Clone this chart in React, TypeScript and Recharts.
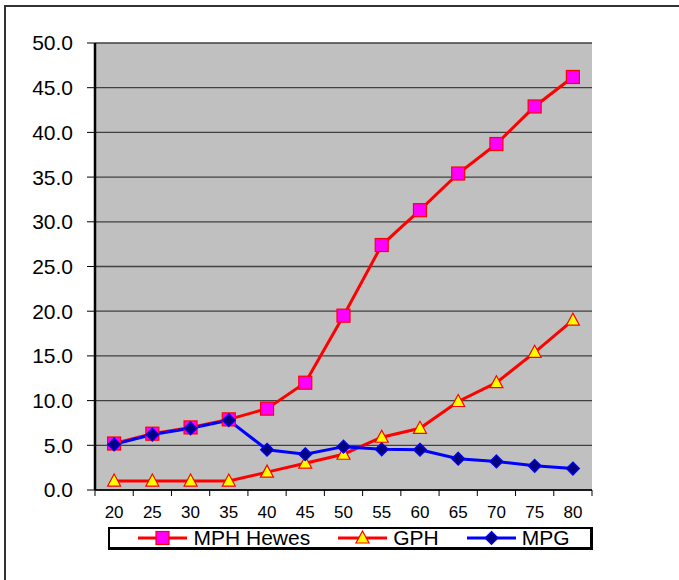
import {CartesianGrid, Legend, Line, LineChart, XAxis, YAxis} from 'recharts'

const speeds = ['20', '25', '30', '35', '40', '45', '50', '55', '60', '65', '70', '75', '80']
const mphHewes = [5.2, 6.3, 7.0, 7.9, 9.1, 12.0, 19.5, 27.4, 31.3, 35.4, 38.7, 42.9, 46.2]
const gph = [1, 1, 1, 1, 2, 3, 4, 5.9, 6.9, 9.9, 12.0, 15.4, 19.0]
const mpg = [5.1, 6.2, 6.9, 7.8, 4.5, 4.0, 4.85, 4.55, 4.5, 3.5, 3.2, 2.7, 2.4]
const yTicks = [0, 5, 10, 15, 20, 25, 30, 35, 40, 45, 50]
const legendOrder = ['mph', 'gph', 'mpg']

const data = speeds.map((speed, i) => ({speed, mph: mphHewes[i], gph: gph[i], mpg: mpg[i]}))

const W = 679
const H = 580
const LEFT = 95
const RIGHT = 87
const TOP = 43
const BAND = (W - LEFT - RIGHT) / speeds.length
const FONT = '"Liberation Sans", Arial, sans-serif'

type Shape = 'square' | 'triangle' | 'diamond'

function Marker({cx, cy, shape}: {cx: number; cy: number; shape: Shape}) {
  if (shape === 'square') {
    return <rect x={cx - 6.5} y={cy - 6.5} width={13} height={13} fill="#ff00ff" stroke="#ff0000" strokeWidth={1.2} />
  }
  if (shape === 'triangle') {
    return <polygon points={`${cx},${cy - 7} ${cx + 6.5},${cy + 5} ${cx - 6.5},${cy + 5}`} fill="#ffff00" stroke="#ff0000" strokeWidth={1.2} />
  }
  return <polygon points={`${cx},${cy - 6.5} ${cx + 6.5},${cy} ${cx},${cy + 6.5} ${cx - 6.5},${cy}`} fill="#000080" stroke="#0000ff" strokeWidth={1.2} />
}

const dot = (shape: Shape) => (props: any) => <Marker key={props.index} cx={props.cx} cy={props.cy} shape={shape} />

function XTick(props: any) {
  const {x, y, payload, index} = props
  const left = x - BAND / 2
  return (
    <g>
      <line x1={left} y1={y - 8} x2={left} y2={y - 2} stroke="#000" strokeWidth={1} />
      {index === speeds.length - 1 && <line x1={x + BAND / 2} y1={y - 8} x2={x + BAND / 2} y2={y - 2} stroke="#000" strokeWidth={1} />}
      <text x={x} y={y + 20} textAnchor="middle" fontSize={17} fontFamily={FONT} fill="#000">
        {payload.value}
      </text>
    </g>
  )
}

const shapes: Record<string, Shape> = {mph: 'square', gph: 'triangle', mpg: 'diamond'}

function LegendBox({payload}: any) {
  const items = [...(payload ?? [])].sort((a: any, b: any) => legendOrder.indexOf(a.dataKey) - legendOrder.indexOf(b.dataKey))
  return (
    <div
      style={{
        boxSizing: 'border-box',
        height: 23,
        border: '2px solid #000',
        borderRightWidth: 3,
        borderBottomWidth: 3,
        background: '#fff',
        display: 'flex',
        alignItems: 'center',
        justifyContent: 'center',
        gap: 28,
        paddingLeft: 8,
        fontFamily: FONT,
        fontSize: 21,
        color: '#000',
      }}
    >
      {items.map((item: any) => (
        <div key={item.dataKey} style={{display: 'flex', alignItems: 'center', gap: 6}}>
          <svg width={49} height={16}>
            <line x1={0} y1={8} x2={49} y2={8} stroke={item.color} strokeWidth={3} />
            <Marker cx={24.5} cy={8} shape={shapes[item.dataKey]} />
          </svg>
          <span style={{lineHeight: '18px'}}>{item.value}</span>
        </div>
      ))}
    </div>
  )
}

export default function App() {
  return (
    <div style={{position: 'absolute', left: 0, top: 0, width: W, height: H, overflow: 'hidden', background: '#fff'}}>
      <div style={{position: 'absolute', left: 4, top: 5, width: W + 40, height: H + 40, border: '2px solid #333'}} />
      <div style={{position: 'absolute', left: 0, top: 0}}>
        <LineChart width={W} height={H} data={data} margin={{top: TOP, right: RIGHT, bottom: 60, left: 0}}>
          <CartesianGrid vertical={false} stroke="#404040" strokeWidth={1.3} fill="#c0c0c0" fillOpacity={1} />
          <XAxis
            dataKey="speed"
            height={30}
            padding={{left: BAND / 2, right: BAND / 2}}
            axisLine={{stroke: '#000', strokeWidth: 1.5}}
            tickLine={false}
            tick={<XTick />}
            interval={0}
          />
          <XAxis
            xAxisId="frame"
            dataKey="speed"
            orientation="top"
            height={0}
            axisLine={{stroke: '#808080', strokeWidth: 2.5}}
            tick={false}
            tickLine={false}
          />
          <YAxis
            width={LEFT}
            domain={[0, 50]}
            ticks={yTicks}
            tickFormatter={(v) => Number(v).toFixed(1)}
            axisLine={{stroke: '#000', strokeWidth: 2.5}}
            tickLine={{stroke: '#000'}}
            tickSize={8}
            tickMargin={14}
            tick={{fontSize: 21, fill: '#000', fontFamily: FONT}}
          />
          <YAxis
            yAxisId="frame"
            orientation="right"
            width={0}
            domain={[0, 50]}
            axisLine={{stroke: '#808080', strokeWidth: 2.5}}
            tick={false}
            tickLine={false}
          />
          <Legend
            layout="horizontal"
            verticalAlign="middle"
            align="center"
            wrapperStyle={{top: 527, left: 108, width: 485, height: 23}}
            content={<LegendBox />}
          />
          <Line dataKey="mph" name="MPH Hewes" stroke="#ff0000" strokeWidth={3} dot={dot('square')} activeDot={false} isAnimationActive={false} />
          <Line dataKey="gph" name="GPH" stroke="#ff0000" strokeWidth={3} dot={dot('triangle')} activeDot={false} isAnimationActive={false} />
          <Line dataKey="mpg" name="MPG" stroke="#0000ff" strokeWidth={3} dot={dot('diamond')} activeDot={false} isAnimationActive={false} />
        </LineChart>
      </div>
    </div>
  )
}
